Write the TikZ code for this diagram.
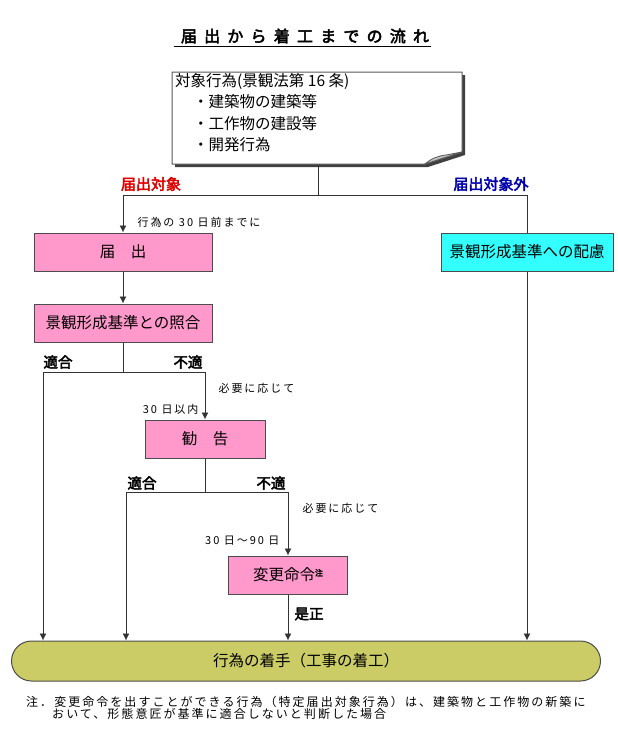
\documentclass[tikz,border=0pt]{standalone}
\usepackage{fontspec}
\setmainfont{Noto Sans CJK JP}
\newfontfamily\jpbold{Noto Sans CJK JP}[FakeBold=3]
\newfontfamily\jpsmall{Noto Sans CJK JP}[LetterSpace=18]
\newfontfamily\jpnote{Noto Sans CJK JP}[LetterSpace=17]
\newfontfamily\jptitle{Noto Sans CJK JP}[FakeBold=3,LetterSpace=45]
\usetikzlibrary{arrows.meta}

\definecolor{boxpink}{RGB}{255,153,204}
\definecolor{boxcyan}{RGB}{51,255,255}
\definecolor{startolive}{RGB}{204,204,102}
\definecolor{labred}{RGB}{220,0,0}
\definecolor{labblue}{RGB}{0,0,170}

\tikzset{
  stepbox/.style={draw=black!70,line width=1pt,fill=boxpink,inner sep=0pt,
    minimum height=38pt,font=\fontsize{15.5}{18}\selectfont},
  okng/.style={font=\jpbold\fontsize{14.5}{16}\selectfont},
  smalllab/.style={font=\jpsmall\fontsize{11}{13}\selectfont},
  flow/.style={black!80,line width=0.9pt},
}

\begin{document}
\begin{tikzpicture}[x=1pt,y=-1pt,>={Latex[length=7pt,width=7pt]}]
  \useasboundingbox (0,0) rectangle (618,748);

  % title
  \node[font=\jptitle\fontsize{16}{18}\selectfont] (title) at (305,36) {届出から着工までの流れ};
  \draw[line width=1pt] (174,46) -- (431,46);

  % target acts, paper with curled corner
  \fill[black!75] (175,75) -- (465,75) -- (465,155) -- (428,167) -- (175,167) -- cycle;
  \filldraw[fill=white,draw=black!65,line width=1pt]
    (172,72) -- (462,72) -- (462,152) -- (425,164) -- (172,164) -- cycle;
  \filldraw[fill=black!25,draw=black!65,line width=0.8pt]
    (425,164) .. controls (432,158) and (438,156) .. (446,155) -- (462,152) -- cycle;
  \node[anchor=north west,align=left,inner sep=0pt,font=\fontsize{15.5}{21.5}\selectfont] (tgt) at (175,73)
    {対象行為(景観法第 16 条)\\\hspace*{18pt}・建築物の建築等\\\hspace*{18pt}・工作物の建設等\\\hspace*{18pt}・開発行為};
  \coordinate (tgtbot) at (318,165);
  \coordinate (split) at (318,195);

  \node[okng,font=\jpbold\fontsize{15}{16}\selectfont,text=labred] (yeslab) at (151,184) {届出対象};
  \node[okng,font=\jpbold\fontsize{15}{16}\selectfont,text=labblue] (nolab) at (491,184) {届出対象外};
  \node[smalllab,anchor=west] (days30) at (134,222) {行為の 30 日前までに};

  % boxes
  \node[stepbox,minimum width=178pt] (todoke) at (123,252) {届　出};
  \node[stepbox,fill=boxcyan,minimum width=172pt] (hairyo) at (527,252) {景観形成基準への配慮};
  \node[stepbox,minimum width=178pt] (shogo) at (123,323) {景観形成基準との照合};
  \node[stepbox,minimum width=120pt] (kankoku) at (205,439) {勧　告};
  \node[stepbox,minimum width=119pt] (henko) at (288,575)
    {変更命令\raisebox{5pt}{\jpbold\fontsize{8}{8}\selectfont 注}};
  \node[draw=black!70,line width=1pt,fill=startolive,rounded corners=20pt,
    minimum width=589pt,minimum height=40pt,inner sep=0pt,
    font=\fontsize{15.5}{18}\selectfont] (start) at (306,661) {行為の着手（工事の着工）};

  % branch labels
  \node[okng,anchor=west] (ok1) at (40,362) {適合};
  \node[okng,anchor=east] (ng1) at (206,362) {不適};
  \node[smalllab,anchor=west] (need1) at (215,388) {必要に応じて};
  \node[smalllab,anchor=east] (days1) at (202,409) {30 日以内};
  \node[okng,anchor=west] (ok2) at (124,483) {適合};
  \node[okng,anchor=east] (ng2) at (289,483) {不適};
  \node[smalllab,anchor=west] (need2) at (299,508) {必要に応じて};
  \node[smalllab,anchor=east] (days2) at (283,541) {30 日～90 日};
  \node[okng,anchor=west] (fix) at (291,614) {是正};

  \coordinate (j1) at (123,372);
  \coordinate (j2) at (205,492);
  \coordinate (colA) at (43,0);
  \coordinate (colB) at (126,0);

  % connectors
  \draw[flow] (tgtbot) -- (split);
  \draw[flow,->] (split) -| (todoke.north);
  \draw[flow] (split) -| (hairyo.north);
  \draw[flow,->] (todoke) -- (shogo);
  \draw[flow] (shogo) -- (j1);
  \draw[flow,->] (j1) -| (start.north -| colA);
  \draw[flow,->] (j1) -| (kankoku.north);
  \draw[flow] (kankoku) -- (j2);
  \draw[flow,->] (j2) -| (start.north -| colB);
  \draw[flow,->] (j2) -| (henko.north);
  \draw[flow,->] (henko) -- (start.north -| henko);
  \draw[flow,->] (hairyo) -- (start.north -| hairyo);

  % footnote
  \node[anchor=north west,align=left,inner sep=0pt,font=\jpnote\fontsize{12}{12.5}\selectfont] (note) at (26,696)
    {注．変更命令を出すことができる行為（特定届出対象行為）は、建築物と工作物の新築に\\\hphantom{注．}おいて、形態意匠が基準に適合しないと判断した場合};
\end{tikzpicture}
\end{document}
